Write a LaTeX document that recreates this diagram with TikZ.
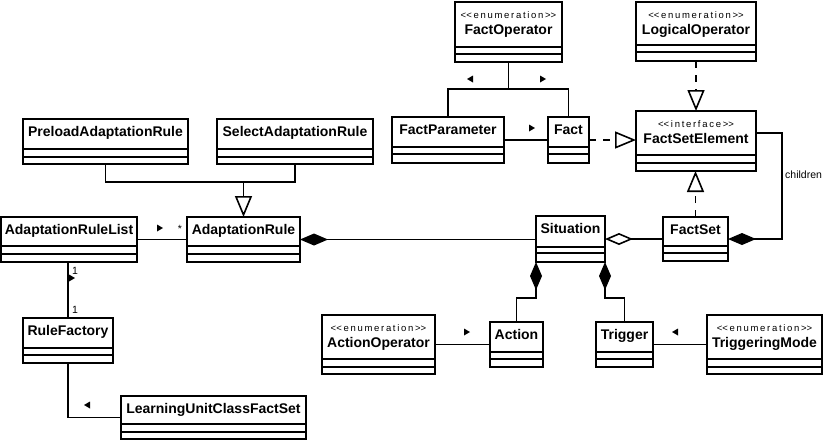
\documentclass[tikz,border=0pt]{standalone}
\usepackage{fontspec}
\setmainfont{Liberation Sans}
\newfontfamily\stereofont[LetterSpace=18]{Liberation Sans}
\usetikzlibrary{arrows.meta,fit,calc}

\tikzset{
  classbox/.style={draw, line width=1.8pt, inner sep=0pt, outer sep=0pt, fill=white},
  divider/.style={line width=1.8pt},
  classname/.style={font=\bfseries\fontsize{14}{16}\selectfont, inner sep=0pt},
  stereo/.style={font=\stereofont\fontsize{9.5}{10}\selectfont, inner sep=0pt},
  lbl/.style={font=\fontsize{10.5}{12}\selectfont, inner sep=0pt},
  conn/.style={line width=1.6pt},
  gen/.style={conn, -{Triangle[open, length=21pt, width=17pt]}},
  realize/.style={gen, dash pattern=on 7pt off 7pt},
  comp/.style={conn, {Diamond[length=28pt, width=12pt]}-},
  agg/.style={conn, {Diamond[open, length=28pt, width=12pt]}-},
  navr/.pic={\fill (-3,-3.5) -- (3,0) -- (-3,3.5) -- cycle;},
  navl/.pic={\fill (3,-3.5) -- (-3,0) -- (3,3.5) -- cycle;},
}

% plain class: name, x1, y1, x2, y2, first divider, second divider, title
\newcommand\umlclass[8]{%
  \node[classbox, fit={(#2,#3) (#4,#5)}] (#1) {};
  \draw[divider] (#1.west |- 0,#6) -- (#1.east |- 0,#6)
                 (#1.west |- 0,#7) -- (#1.east |- 0,#7);
  \node[classname, anchor=base] (#1-name) at ($(#1.north)+(0,17.5)$) {#8};
}
% class with a stereotype line above its title
\newcommand\umlstereo[9]{%
  \node[classbox, fit={(#2,#3) (#4,#5)}] (#1) {};
  \draw[divider] (#1.west |- 0,#6) -- (#1.east |- 0,#6)
                 (#1.west |- 0,#7) -- (#1.east |- 0,#7);
  \node[stereo, anchor=base] (#1-stereo) at ($(#1.north)+(0,16.5)$)
    {<\kern0pt<#8>\kern0pt>};
  \node[classname, anchor=base] (#1-name) at ($(#1.north)+(0,32)$) {#9};
}

\begin{document}
\begin{tikzpicture}[x=1pt,y=-1pt]
\useasboundingbox (0,0) rectangle (826,440);

% ---- classes ----
\umlstereo{factop}{455}{2}{562}{62}{47}{54}{enumeration}{FactOperator}
\umlstereo{logop}{636}{2}{756}{61}{45}{52}{enumeration}{LogicalOperator}
\umlclass{factparam}{392}{117}{504}{163}{147}{154}{FactParameter}
\umlclass{fact}{548}{117}{589}{163}{147}{154}{Fact}
\umlstereo{fse}{636}{111}{756}{171}{155}{163}{interface}{FactSetElement}
\umlclass{preload}{23}{119}{188}{164}{149}{157}{PreloadAdaptationRule}
\umlclass{select}{217}{119}{373}{164}{149}{157}{SelectAdaptationRule}
\umlclass{arlist}{1}{217}{137}{262}{246}{254}{AdaptationRuleList}
\umlclass{arule}{187}{217}{300}{262}{246}{254}{AdaptationRule}
\umlclass{situation}{536}{216}{605}{262}{247}{253}{Situation}
\umlclass{factset}{663}{217}{728}{261}{246}{253}{FactSet}
\umlstereo{actop}{322}{315}{435}{374}{359}{367}{enumeration}{ActionOperator}
\umlclass{action}{490}{322}{543}{367}{352}{359}{Action}
\umlclass{trigger}{596}{322}{653}{367}{352}{359}{Trigger}
\umlstereo{trigmode}{707}{315}{822}{374}{359}{367}{enumeration}{TriggeringMode}
\umlclass{rulefactory}{23}{318}{113}{363}{348}{355}{RuleFactory}
\umlclass{lucfs}{121}{396}{306}{439}{424}{432}{LearningUnitClassFactSet}

% ---- generalisation of the two rule kinds ----
\coordinate (genjoin) at (arule.north |- 0,182);
\draw[conn] (preload.south) |- (genjoin) -| (select.south);
\draw[gen] (genjoin) -- (arule.north);

% ---- FactOperator used by FactParameter and Fact ----
\coordinate (fojoin) at ($(factop.south)+(0,27)$);
\draw[conn] (factop.south) -- (fojoin);
\draw[conn] (factparam.north) |- (fojoin) -| (fact.north);
\pic at (470,79) {navl};
\pic at (543,79) {navr};

% ---- FactParameter -> Fact ----
\draw[conn] (factparam.east) -- (fact.west);
\pic at (532,128) {navr};

% ---- realisations of FactSetElement ----
\draw[realize] (fact.east) -- (fse.west |- fact.east);
\draw[realize] (logop.south) -- (fse.north);
\draw[realize] (factset.north) -- (fse.south -| factset.north);

% ---- FactSet children ----
\coordinate (childcorner) at (782,133);
\draw[comp] (factset.east) -| (childcorner) -- (fse.east |- childcorner);
\node[lbl, anchor=west] (childlbl) at (785,175) {children};

% ---- Situation relations ----
\draw[agg] (situation.east) -- (factset.west);
\draw[comp] (arule.east) -- (situation.west |- arule.east);
\draw[comp] (situation.south west) -- ++(0,36) -| (action.north);
\draw[comp] (situation.south east) -- ++(0,36) -| (trigger.north);

% ---- AdaptationRuleList -> AdaptationRule ----
\draw[conn] (arlist.east) -- (arule.west);
\pic at (160,228) {navr};
\node[lbl, anchor=base] (arstar) at (180,232) {*};

% ---- AdaptationRuleList - RuleFactory ----
\draw[conn] (arlist.south -| rulefactory.north) -- (rulefactory.north);
\node[lbl, anchor=base west] (mult1) at (72,274) {1};
\pic at (72,278) {navr};
\node[lbl, anchor=base west] (mult2) at (72,313) {1};

% ---- RuleFactory - LearningUnitClassFactSet ----
\draw[conn] (rulefactory.south) |- (lucfs.west);
\pic at (87,405) {navl};

% ---- enumerations used by Action and Trigger ----
\draw[conn] (actop.east) -- (action.west);
\pic at (467,332) {navr};
\draw[conn] (trigmode.west) -- (trigger.east);
\pic at (675,332) {navl};
\end{tikzpicture}
\end{document}
